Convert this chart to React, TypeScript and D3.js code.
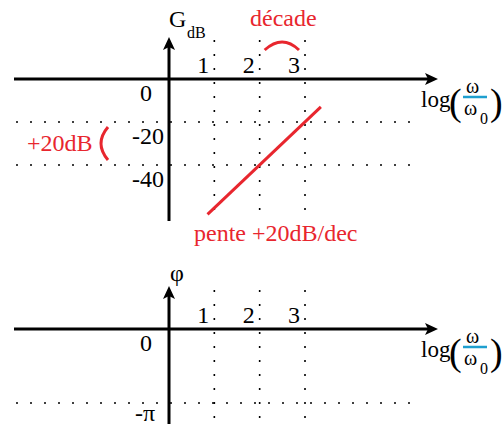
import React from "react";
import * as d3 from "d3";

// Decade ticks on the log(ω/ω0) axis
const decades = [1, 2, 3];
// Gain grid levels (dB)
const gainLevels = [-20, -40];
const gainTickLabels = ["0", "-20", "-40"];
// Asymptote endpoints: [log(ω/ω0), G dB]
const slopeLog = [0.85, 3.35];
const slopeDb = [-63, -13];
// Phase grid level
const phaseLevels = [-Math.PI];

const RED = "#e8262e";
const BLUE = "#1e9fcf";

const W = 502;
const H = 426;

const x = d3.scaleLinear().domain([0, 3]).range([169, 305]);
const xLeft = 14;
const xArrow = 438;
const gridLeft = 16;
const gridRight = 416;

const yG = d3.scaleLinear().domain([0, -40]).range([79, 165]);
const yP = d3.scaleLinear().domain([0, -Math.PI]).range([329, 403]);

const dotted = { stroke: "#000", strokeWidth: 1.6, strokeDasharray: "2 12", fill: "none" };

type TProps = {
  x: number;
  y: number;
  size?: number;
  fill?: string;
  anchor?: "start" | "middle" | "end";
  children: React.ReactNode;
};

function T({ x, y, size = 24, fill = "#000", anchor = "start", children }: TProps) {
  return (
    <text
      x={x}
      y={y}
      fontSize={size}
      fill={fill}
      textAnchor={anchor}
      style={{ fontFamily: "Liberation Serif" }}
    >
      {children}
    </text>
  );
}

function HArrow({ y }: { y: number }) {
  return (
    <g>
      <line x1={xLeft} x2={xArrow - 6} y1={y} y2={y} stroke="#000" strokeWidth={3} />
      <path d={`M${xArrow},${y} L${xArrow - 13},${y - 6} L${xArrow - 10},${y} L${xArrow - 13},${y + 6} Z`} fill="#000" />
    </g>
  );
}

function VArrow({ top, bottom }: { top: number; bottom: number }) {
  const cx = x(0);
  return (
    <g>
      <line x1={cx} x2={cx} y1={bottom} y2={top + 6} stroke="#000" strokeWidth={3} />
      <path d={`M${cx},${top} L${cx - 6},${top + 13} L${cx},${top + 10} L${cx + 6},${top + 13} Z`} fill="#000" />
    </g>
  );
}

function LogLabel({ y }: { y: number }) {
  // y is the baseline of "log"
  return (
    <g>
      <T x={421} y={y} size={23}>log</T>
      <T x={449} y={y + 8} size={38}>(</T>
      <T x={466} y={y - 14} size={20}>ω</T>
      <line x1={463} x2={487} y1={y - 10} y2={y - 10} stroke={BLUE} strokeWidth={2.5} />
      <T x={464} y={y + 8} size={20}>ω</T>
      <T x={480} y={y + 17} size={16}>0</T>
      <T x={490} y={y + 8} size={38}>)</T>
    </g>
  );
}

export default function App() {
  const line = d3
    .line<number>()
    .x((_, i) => x(slopeLog[i]))
    .y((d) => yG(d));

  const gainLevelsAll = [0, ...gainLevels];

  return (
    <svg width={W} height={H} style={{ position: "absolute", left: 0, top: 0 }}>
      <rect width={W} height={H} fill="#fff" />

      {/* Gain diagram */}
      {decades.map((d) => (
        <line key={`gv${d}`} x1={x(d)} x2={x(d)} y1={40} y2={222} {...dotted} />
      ))}
      {gainLevels.map((g) => (
        <line key={`gh${g}`} x1={gridLeft} x2={gridRight} y1={yG(g)} y2={yG(g)} {...dotted} />
      ))}
      <HArrow y={yG(0)} />
      <VArrow top={37} bottom={221} />
      {decades.map((d) => (
        <T key={`gt${d}`} x={x(d) - 5} y={yG(0) - 6} anchor="end">{d}</T>
      ))}
      {gainLevelsAll.map((g, i) => (
        <T key={`gl${g}`} x={i === 0 ? 152 : 164} y={yG(g) + 22} anchor="end">
          {gainTickLabels[i]}
        </T>
      ))}
      <T x={169} y={27} size={24}>G</T>
      <T x={187} y={38} size={16}>dB</T>
      <LogLabel y={yG(0) + 28} />

      <path d={line(slopeDb) ?? ""} stroke={RED} strokeWidth={3} fill="none" />

      <T x={250} y={26} fill={RED}>décade</T>
      <T x={27} y={151} fill={RED}>+20dB</T>
      <T x={194} y={241} fill={RED}>pente +20dB/dec</T>
      <path
        d={`M${x(2) + 5},50 Q${(x(2) + x(3)) / 2},34 ${x(3) - 6},50`}
        stroke={RED}
        strokeWidth={3}
        fill="none"
      />
      <path
        d={`M108,${yG(-20) + 5} Q94,${(yG(-20) + yG(-40)) / 2} 108,${yG(-40) - 5}`}
        stroke={RED}
        strokeWidth={3}
        fill="none"
      />

      {/* Phase diagram */}
      {decades.map((d) => (
        <line key={`pv${d}`} x1={x(d)} x2={x(d)} y1={290} y2={426} {...dotted} />
      ))}
      {phaseLevels.map((p) => (
        <line key={`ph${p}`} x1={gridLeft} x2={gridRight} y1={yP(p)} y2={yP(p)} {...dotted} />
      ))}
      <HArrow y={yP(0)} />
      <VArrow top={286} bottom={424} />
      {decades.map((d) => (
        <T key={`pt${d}`} x={x(d) - 5} y={yP(0) - 6} anchor="end">{d}</T>
      ))}
      <T x={152} y={yP(0) + 22} anchor="end">0</T>
      <T x={155} y={421} anchor="end">-π</T>
      <T x={170} y={281}>φ</T>
      <LogLabel y={yP(0) + 28} />
    </svg>
  );
}
